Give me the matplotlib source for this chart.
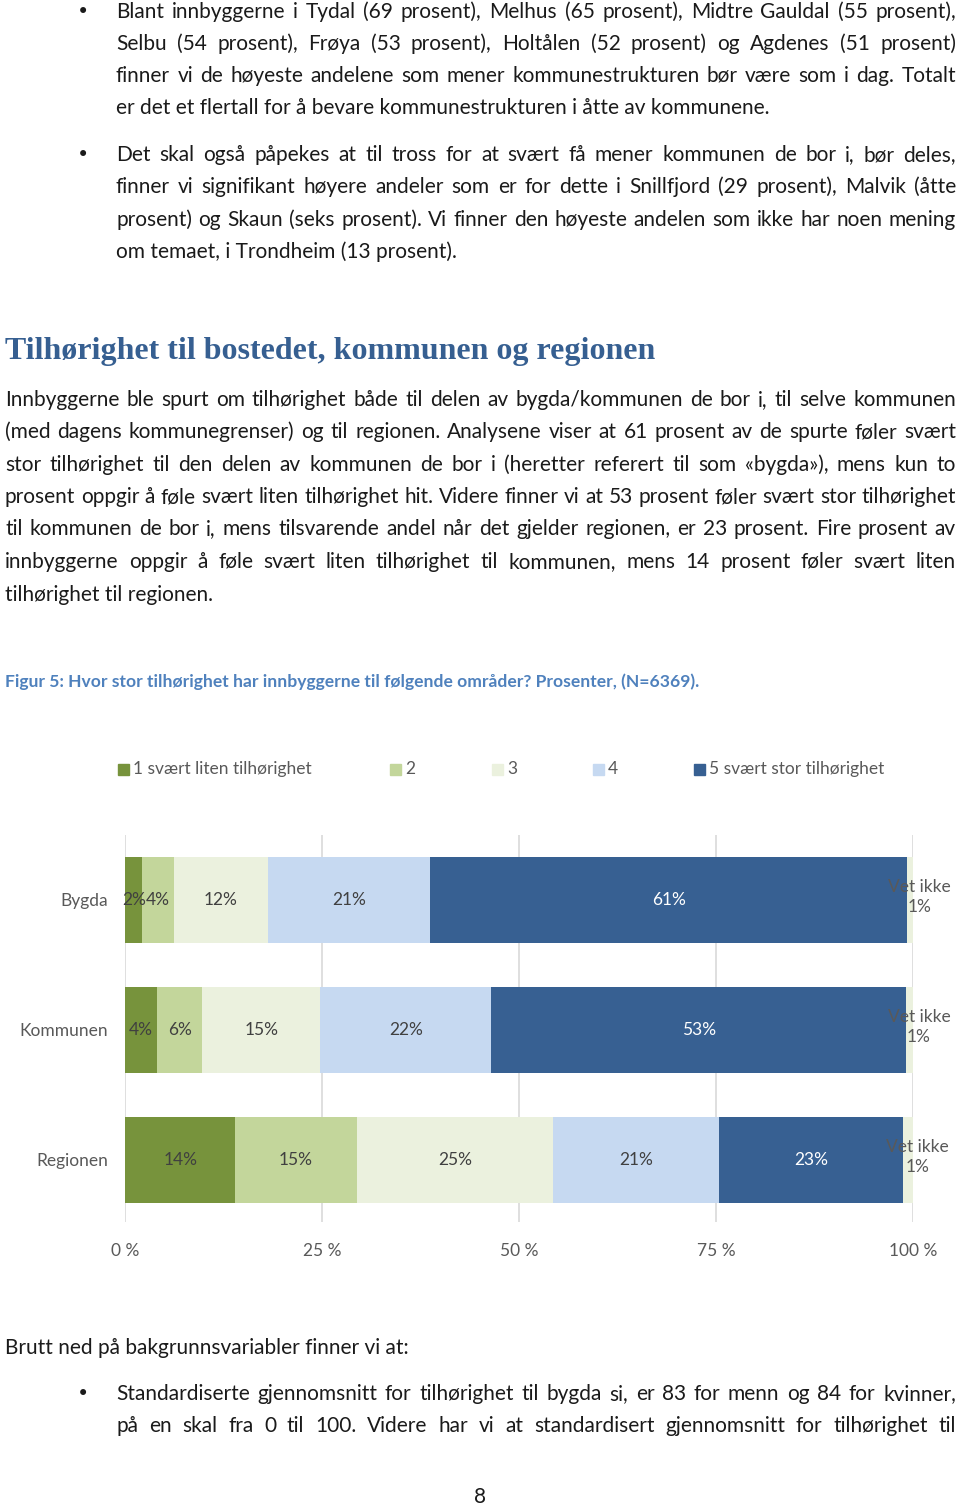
import numpy as np
import matplotlib.pyplot as plt
from matplotlib.patches import Rectangle

# data
categories = ['Bygda', 'Kommunen', 'Regionen']
series = ['1 svært liten tilhørighet', '2', '3', '4', '5 svært stor tilhørighet']
values = np.array([
    [2.2, 4.0, 11.9, 20.6, 60.6, 0.7],   # Bygda
    [4.1, 5.7, 15.0, 21.7, 52.6, 0.9],   # Kommunen
    [14.0, 15.4, 24.9, 21.1, 23.3, 1.3], # Regionen
])
labels = [
    ['2%', '4%', '12%', '21%', '61%', '1%'],
    ['4%', '6%', '15%', '22%', '53%', '1%'],
    ['14%', '15%', '25%', '21%', '23%', '1%'],
]
ticks = [0, 25, 50, 75, 100]
tick_labels = ['0 %', '25 %', '50 %', '75 %', '100 %']
colors = ['#77933C', '#C3D69B', '#EBF1DE', '#C6D9F1', '#376092', '#EBF1DE']
label_colors = ['#404040', '#404040', '#404040', '#404040', '#FFFFFF']

W, H = 960, 1508
fig = plt.figure(figsize=(W / 100, H / 100), dpi=100)
renderer = fig.canvas.get_renderer()

BODY = 'Lato'
TXT = '#1a1a1a'
CH = 12.5  # chart text size


def fx(x):
    return x / W


def fy(y):
    return 1 - y / H


def put_line(text, x0, y, x1=None, size=13, **kw):
    # x1 given -> justified line
    if x1 is None:
        fig.text(fx(x0), fy(y), text, ha='left', va='center', size=size, family=BODY, color=TXT, **kw)
        return
    words = text.split(' ')
    arts = [fig.text(0, 0, w, ha='left', va='center', size=size, family=BODY, color=TXT, **kw) for w in words]
    widths = [a.get_window_extent(renderer).width for a in arts]
    gap = (x1 - x0 - sum(widths)) / (len(words) - 1)
    x = x0
    for a, w in zip(arts, widths):
        a.set_position((fx(x), fy(y)))
        x += w + gap


# page text
para1 = [
    ("Blant innbyggerne i Tydal (69 prosent), Melhus (65 prosent), Midtre Gauldal (55 prosent),", 12, True),
    ("Selbu (54 prosent), Frøya (53 prosent), Holtålen (52 prosent) og Agdenes (51 prosent)", 44, True),
    ("finner vi de høyeste andelene som mener kommunestrukturen bør være som i dag. Totalt", 76, True),
    ("er det et flertall for å bevare kommunestrukturen i åtte av kommunene.", 108, False),
]
para2 = [
    ("Det skal også påpekes at til tross for at svært få mener kommunen de bor i, bør deles,", 155, True),
    ("finner vi signifikant høyere andeler som er for dette i Snillfjord (29 prosent), Malvik (åtte", 187, True),
    ("prosent) og Skaun (seks prosent). Vi finner den høyeste andelen som ikke har noen mening", 220, True),
    ("om temaet, i Trondheim (13 prosent).", 252, False),
]
para3 = [
    ("Innbyggerne ble spurt om tilhørighet både til delen av bygda/kommunen de bor i, til selve kommunen", 400, True),
    ("(med dagens kommunegrenser) og til regionen. Analysene viser at 61 prosent av de spurte føler svært", 432, True),
    ("stor tilhørighet til den delen av kommunen de bor i (heretter referert til som «bygda»), mens kun to", 465, True),
    ("prosent oppgir å føle svært liten tilhørighet hit. Videre finner vi at 53 prosent føler svært stor tilhørighet", 497, True),
    ("til kommunen de bor i, mens tilsvarende andel når det gjelder regionen, er 23 prosent. Fire prosent av", 529, True),
    ("innbyggerne oppgir å føle svært liten tilhørighet til kommunen, mens 14 prosent føler svært liten", 562, True),
    ("tilhørighet til regionen.", 595, False),
]
para4 = [
    ("Standardiserte gjennomsnitt for tilhørighet til bygda si, er 83 for menn og 84 for kvinner,", 1394, True),
    ("på en skal fra 0 til 100. Videre har vi at standardisert gjennomsnitt for tilhørighet til", 1426, True),
]

# body size: fit the tightest justified line
probe = fig.text(0, 0, para3[3][0], size=10, family=BODY)
body_size = 10 * 951 / probe.get_window_extent(renderer).width
probe.remove()

for lines, x0 in [(para1, 116), (para2, 116), (para3, 5), (para4, 116)]:
    for text, y, just in lines:
        put_line(text, x0, y, 956 if just else None, size=body_size)

for y in [12, 155, 1394]:
    fig.text(fx(83), fy(y), '•', ha='center', va='center', size=body_size, color=TXT)

fig.text(fx(5), fy(352), 'Tilhørighet til bostedet, kommunen og regionen', ha='left', va='center',
         size=23, family='Liberation Serif', weight='bold', color='#365F91')
fig.text(fx(5), fy(682), 'Figur 5: Hvor stor tilhørighet har innbyggerne til følgende områder? Prosenter, (N=6369).',
         ha='left', va='center', size=12.6, family=BODY, weight='bold', color='#4F81BD')
put_line('Brutt ned på bakgrunnsvariabler finner vi at:', 5, 1348, size=body_size)
fig.text(0.5, fy(1497), '8', ha='center', va='center', size=body_size, family=BODY, color=TXT)

# chart
ax = fig.add_axes([fx(125), fy(1222), (913 - 125) / W, (1222 - 835) / H])
ypos = np.arange(len(categories))
left = np.zeros(len(categories))
for j in range(values.shape[1]):
    ax.barh(ypos, values[:, j], left=left, height=0.66, color=colors[j], zorder=2)
    for i in range(len(categories)):
        cx = left[i] + values[i, j] / 2
        if j < 5:
            ax.text(cx, ypos[i], labels[i][j], ha='center', va='center', size=CH,
                    family=BODY, color=label_colors[j], zorder=3)
        else:
            ax.text(cx + 1.2, ypos[i] - 0.02, 'Vet ikke\n' + labels[i][j], ha='center', va='center',
                    size=CH, family=BODY, color='#595959', linespacing=1.3, zorder=3)
    left += values[:, j]

ax.set_xlim(0, 100)
ax.set_ylim(2.48, -0.5)
ax.set_xticks(ticks)
ax.set_xticklabels(tick_labels, family=BODY, size=CH, color='#595959')
ax.set_yticks(ypos)
ax.set_yticklabels(categories, family=BODY, size=CH, color='#595959')
ax.tick_params(axis='y', length=0, pad=12)
ax.tick_params(axis='x', length=0, pad=15)
ax.grid(axis='x', color='#D9D9D9', linewidth=1.2, zorder=0)
for s in ax.spines.values():
    s.set_visible(False)

# legend
leg_x = [118, 390, 492, 593, 694]
for name, c, x in zip(series, colors, leg_x):
    fig.patches.append(Rectangle((fx(x), fy(775)), 11 / W, 11 / H, transform=fig.transFigure,
                                 color=c, figure=fig))
    fig.text(fx(x + 15), fy(769), name, ha='left', va='center', size=CH, family=BODY, color='#595959')

fig.savefig('out.png', dpi=100)
